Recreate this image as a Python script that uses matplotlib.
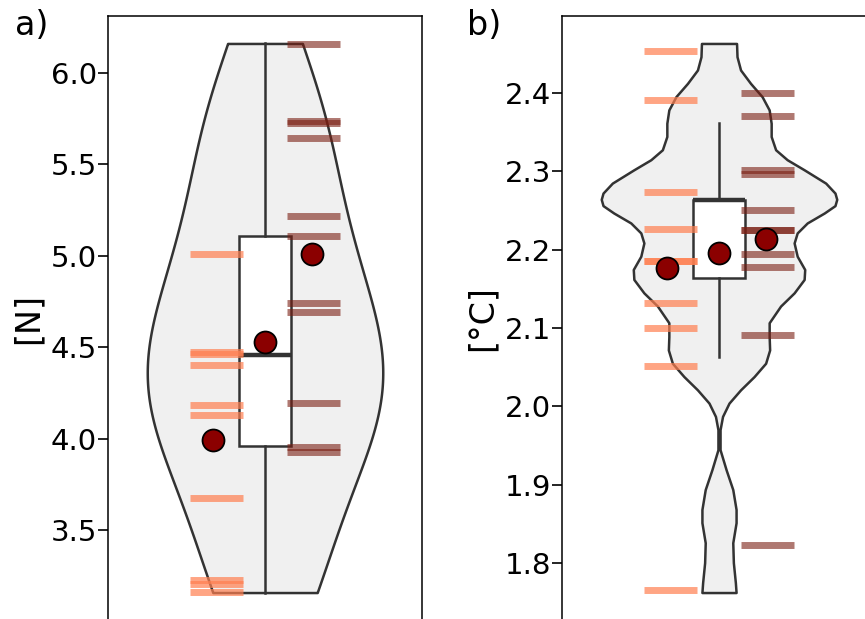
import numpy as np
import matplotlib.pyplot as plt

# ---- data -------------------------------------------------------------------
# a) force [N]
a_left = [5.01, 4.475, 4.465, 4.405, 4.185, 4.13, 3.675, 3.225, 3.205, 3.16]
a_right = [6.16, 5.74, 5.728, 5.644, 5.219, 5.108, 4.74, 4.693, 4.196, 3.956, 3.927]
a_box = dict(med=4.457, q1=3.961, q3=5.110, whislo=3.157, whishi=6.162)
a_range = (3.157, 6.162)
a_ticks = [3.5, 4.0, 4.5, 5.0, 5.5, 6.0]

# b) temperature [°C]
b_left = [2.4525, 2.3907, 2.2738, 2.2263, 2.1856, 2.1856, 2.1322, 2.1004, 2.0513, 1.7661]
b_right = [2.3996, 2.370, 2.3017, 2.2958, 2.2504, 2.2252, 2.2252, 2.1937, 2.1772,
           2.0907, 1.8233]
b_box = dict(med=2.2627, q1=2.164, q3=2.2627, whislo=2.0628, whishi=2.3615)
b_ticks = [1.8, 1.9, 2.0, 2.1, 2.2, 2.3, 2.4]
# violin outline of b) (level, relative density)
b_violin_level = [2.4627, 2.4458, 2.4289, 2.4118, 2.3949, 2.3780, 2.3610, 2.3441,
                  2.3272, 2.3145, 2.3017, 2.2847, 2.2720, 2.2640, 2.2560, 2.2466,
                  2.2339, 2.2212, 2.2084, 2.1915, 2.1746, 2.1619, 2.1448, 2.1280,
                  2.1067, 2.0890, 2.0720, 2.0551, 2.0381, 2.0212, 2.0043, 1.9873,
                  1.9704, 1.9449, 1.9195, 1.8941, 1.8687, 1.8518, 1.8263, 1.8009,
                  1.7755, 1.7628]
b_violin_dens = [0.149, 0.153, 0.183, 0.268, 0.366, 0.426, 0.443, 0.443,
                 0.481, 0.579, 0.723, 0.906, 0.985, 1.0, 0.985, 0.894,
                 0.749, 0.664, 0.638, 0.664, 0.728, 0.723, 0.638, 0.523,
                 0.426, 0.426, 0.430, 0.396, 0.298, 0.183, 0.085, 0.030,
                 0.009, 0.009, 0.060, 0.117, 0.145, 0.145, 0.117, 0.122,
                 0.139, 0.145]

EDGE = '#333333'


def kde_outline(left, right, vrange, n=500):
    vals = np.concatenate([left, right])
    bw = np.std(vals, ddof=1) * len(vals) ** (-0.2)   # scott
    grid = np.linspace(vrange[0], vrange[1], n)
    z = (grid[:, None] - vals[None, :]) / bw
    dens = np.exp(-0.5 * z ** 2).sum(axis=1)
    return grid, dens / dens.max()


def draw_panel(ax, left, right, box, levels, dens, ticks, ylabel):
    vals = np.concatenate([left, right])
    half = 0.75 * np.asarray(dens)

    # violin
    ax.fill_betweenx(levels, -half, half, facecolor='#f0f0f0', edgecolor=EDGE,
                     linewidth=1.8, joinstyle='round', zorder=1)

    # box
    stats = dict(box, fliers=[])
    ax.bxp([stats], positions=[0], widths=0.336, showfliers=False, showcaps=False,
           patch_artist=True,
           boxprops=dict(facecolor='white', edgecolor=EDGE, linewidth=1.8),
           whiskerprops=dict(color=EDGE, linewidth=1.8),
           medianprops=dict(color=EDGE, linewidth=3.2), zorder=2)

    # individual values
    ax.hlines(left, -0.31 - 0.168, -0.31 + 0.168, color='coral', alpha=0.7,
              linewidth=5, zorder=3)
    ax.hlines(right, 0.31 - 0.168, 0.31 + 0.168, color='#7a1e12', alpha=0.6,
              linewidth=5, zorder=3)

    # means
    means = [np.mean(left), np.mean(vals), np.mean(right)]
    ax.scatter([-0.33, 0, 0.30], means, s=250, c='darkred', edgecolors='black',
               linewidths=1.3, zorder=5)

    ax.set_xlim(-1, 1)
    ax.set_xticks([])
    ax.set_yticks(ticks)
    ax.set_yticklabels([f'{t:.1f}' for t in ticks])
    ax.tick_params(axis='y', labelsize=21, length=7, width=1.2, pad=1)
    ax.set_ylabel(ylabel, fontsize=24, labelpad=4)
    for sp in ax.spines.values():
        sp.set_linewidth(1.1)


fig = plt.figure(figsize=(8.65, 6.19), dpi=100)
ax1 = fig.add_axes([108 / 865, -1 / 619, 314 / 865, 604 / 619])
ax2 = fig.add_axes([562 / 865, -1 / 619, 314 / 865, 604 / 619])

a_levels, a_dens = kde_outline(a_left, a_right, a_range)
draw_panel(ax1, a_left, a_right, a_box, a_levels, a_dens, a_ticks, '[N]')
draw_panel(ax2, b_left, b_right, b_box, b_violin_level, b_violin_dens, b_ticks, '[°C]')

fig.text(15 / 865, 1 - 9 / 619, 'a)', fontsize=24, va='top', ha='left')
fig.text(467 / 865, 1 - 9 / 619, 'b)', fontsize=24, va='top', ha='left')

fig.savefig('out.png', dpi=100)
